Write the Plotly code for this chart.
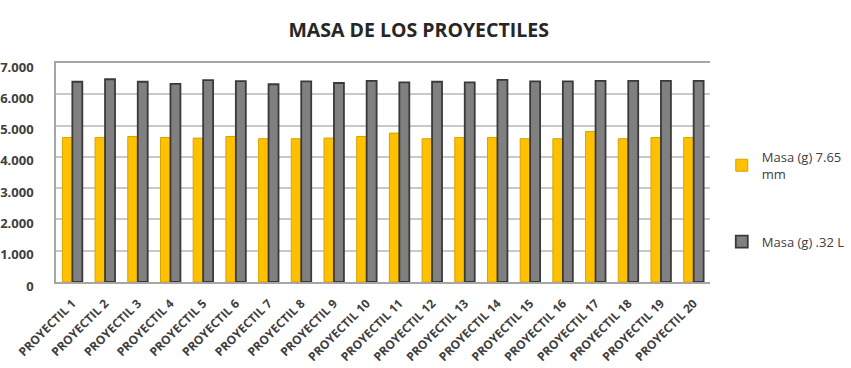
import plotly.graph_objects as go

# Masses of each projectile, in grams
proyectiles = [f"PROYECTIL {i}" for i in range(1, 21)]
masa_765 = [4.62, 4.62, 4.65, 4.62, 4.60, 4.65, 4.58, 4.58, 4.60, 4.65,
            4.76, 4.58, 4.62, 4.62, 4.58, 4.58, 4.81, 4.58, 4.62, 4.62]
masa_32l = [6.40, 6.48, 6.40, 6.33, 6.45, 6.42, 6.32, 6.41, 6.36, 6.43,
            6.38, 6.40, 6.38, 6.46, 6.41, 6.41, 6.43, 6.43, 6.43, 6.43]

y_ticks = [0, 1, 2, 3, 4, 5, 6, 7]
y_tick_text = ["0", "1.000", "2.000", "3.000", "4.000", "5.000", "6.000", "7.000"]

font_family = "Open Sans, Noto Sans, sans-serif"

fig = go.Figure()
fig.add_trace(go.Bar(
    x=proyectiles, y=masa_765, name="Masa (g) 7.65<br>mm",
    marker=dict(color="#FFC000", line=dict(color="#D9A300", width=1)),
    legendgroup="a",
))
fig.add_trace(go.Bar(
    x=proyectiles, y=masa_32l, name="Masa (g) .32 L",
    marker=dict(color="#808080", line=dict(color="#3A3A3A", width=1.8)),
    legendgroup="b",
))

fig.update_layout(
    width=851, height=368,
    margin=dict(l=56, r=141, t=63, b=86, autoexpand=False),
    paper_bgcolor="white", plot_bgcolor="white",
    barmode="group", bargap=0.39, bargroupgap=0,
    title=dict(text="<b>MASA DE LOS PROYECTILES</b>", x=0.492, xanchor="center",
               y=0.918, yanchor="middle",
               font=dict(family=font_family, size=19.5, color="#262626")),
    font=dict(family=font_family, color="#404040"),
    showlegend=True,
    legend=dict(x=1.018, xanchor="left", y=0.64, yanchor="top",
                tracegroupgap=48, itemwidth=30,
                font=dict(family=font_family, size=13, color="#404040"),
                bgcolor="rgba(0,0,0,0)"),
    xaxis=dict(
        showline=True, linecolor="#A6A6A6", linewidth=1.5, mirror=True,
        tickangle=-45, ticks="", ticklabelstandoff=8, automargin=False,
        tickfont=dict(family=font_family, size=12, color="#404040", weight="bold"),
        showgrid=False,
    ),
    yaxis=dict(
        range=[0, 7], tickvals=y_ticks, ticktext=y_tick_text,
        showline=True, linecolor="#A6A6A6", linewidth=1.5, automargin=False,
        showgrid=True, gridcolor="#C8C8C8", gridwidth=1.5,
        ticks="", zeroline=False, ticklabelstandoff=18, ticklabelshift=4,
        tickfont=dict(family=font_family, size=13, color="#404040", weight="bold"),
    ),
)

fig.write_html("out.html")
